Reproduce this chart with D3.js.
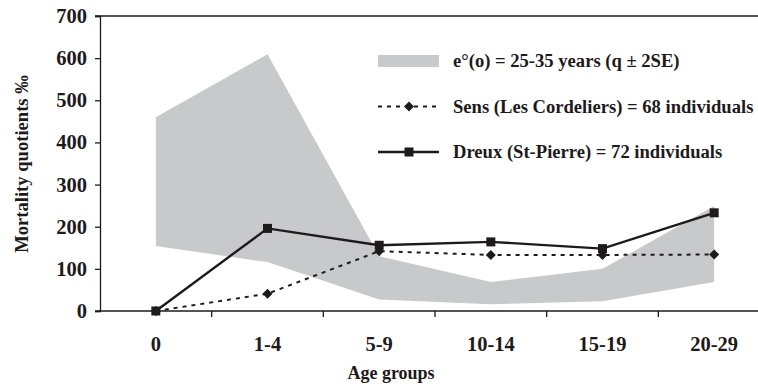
<!DOCTYPE html>
<html>
<head>
<meta charset="utf-8">
<script src="https://cdn.jsdelivr.net/npm/d3@7"></script>
<style>
  body { margin: 0; background: #fff; }
  svg { display: block; font-family: "Liberation Serif", "DejaVu Serif", serif; font-weight: bold; }
</style>
</head>
<body>
<figure id="chart" style="margin:0"></figure>
<script>
const ageGroups = ["0", "1-4", "5-9", "10-14", "15-19", "20-29"]
const bandUpper = [460, 609, 130, 69, 100, 249]
const bandLower = [154, 116, 27, 16, 23, 69]
const sens = [0, 41, 142, 133, 133, 134]
const dreux = [0, 196, 156, 164, 148, 233]
const yTicks = [0, 100, 200, 300, 400, 500, 600, 700]

const width = 758
const height = 388
const ink = "#1e1a1b"
const grey = "#c8c9cb"

const svg = d3.select("#chart").append("svg")
  .attr("width", width)
  .attr("height", height)

const x = d3.scaleBand()
  .domain(ageGroups)
  .range([100, 770])

const y = d3.scaleLinear()
  .domain([0, 700])
  .range([311, 16])

const cx = d => x(d) + x.bandwidth() / 2

// grey band q +/- 2SE
const area = d3.area()
  .x((d, i) => cx(ageGroups[i]))
  .y0((d, i) => y(bandLower[i]))
  .y1(d => y(d))

svg.append("path")
  .datum(bandUpper)
  .attr("fill", grey)
  .attr("d", area)

// top frame line
svg.append("line")
  .attr("x1", 95).attr("x2", width)
  .attr("y1", y(700)).attr("y2", y(700))
  .attr("stroke", ink).attr("stroke-width", 1.3)

// y axis
const yAxis = svg.append("g")
  .attr("transform", "translate(100,0)")
  .call(d3.axisLeft(y).tickValues(yTicks).tickSize(5).tickPadding(8))
yAxis.select(".domain").attr("stroke", ink).attr("stroke-width", 1.3)
yAxis.selectAll(".tick line").attr("stroke", ink).attr("stroke-width", 1.3)
yAxis.selectAll("text")
  .attr("font-size", 20.5)
  .attr("font-family", "Liberation Serif")
  .attr("fill", ink)

// x axis line + ticks between groups
svg.append("line")
  .attr("x1", 95).attr("x2", width)
  .attr("y1", y(0)).attr("y2", y(0))
  .attr("stroke", ink).attr("stroke-width", 1.3)

svg.append("g")
  .selectAll("line")
  .data(ageGroups.slice(1))
  .join("line")
    .attr("x1", d => x(d)).attr("x2", d => x(d))
    .attr("y1", y(0)).attr("y2", y(0) + 6)
    .attr("stroke", ink).attr("stroke-width", 1.3)

svg.append("g")
    .attr("font-size", 20.5)
    .attr("text-anchor", "middle")
    .attr("fill", ink)
  .selectAll("text")
  .data(ageGroups)
  .join("text")
    .attr("x", d => cx(d))
    .attr("y", 351)
    .text(d => d)

svg.append("text")
  .attr("x", 391)
  .attr("y", 379)
  .attr("text-anchor", "middle")
  .attr("font-size", 18)
  .attr("fill", ink)
  .text("Age groups")

svg.append("text")
  .attr("transform", "translate(28,164) rotate(-90)")
  .attr("text-anchor", "middle")
  .attr("font-size", 18.6)
  .attr("fill", ink)
  .text("Mortality quotients ‰")

const line = d3.line()
  .x((d, i) => cx(ageGroups[i]))
  .y(d => y(d))

// Sens: dashed with diamonds
svg.append("path")
  .datum(sens)
  .attr("fill", "none")
  .attr("stroke", ink)
  .attr("stroke-width", 2)
  .attr("stroke-dasharray", "4,5")
  .attr("d", line)

const diamond = d3.symbol().type(d3.symbolSquare).size(50)
svg.append("g")
  .selectAll("path")
  .data(sens)
  .join("path")
    .attr("transform", (d, i) => `translate(${cx(ageGroups[i])},${y(d)}) rotate(45)`)
    .attr("d", diamond)
    .attr("fill", ink)

// Dreux: solid with squares
svg.append("path")
  .datum(dreux)
  .attr("fill", "none")
  .attr("stroke", ink)
  .attr("stroke-width", 2.4)
  .attr("d", line)

svg.append("g")
  .selectAll("rect")
  .data(dreux)
  .join("rect")
    .attr("x", (d, i) => cx(ageGroups[i]) - 4.5)
    .attr("y", d => y(d) - 4.5)
    .attr("width", 9)
    .attr("height", 9)
    .attr("fill", ink)

// legend
const legendItems = [
  { label: "e°(o) = 25-35 years (q ± 2SE)", kind: "band" },
  { label: "Sens (Les Cordeliers) = 68 individuals", kind: "sens" },
  { label: "Dreux (St-Pierre) = 72 individuals", kind: "dreux" }
]

const legend = svg.append("g")
  .selectAll("g")
  .data(legendItems)
  .join("g")
    .attr("transform", (d, i) => `translate(378,${61 + i * 45.5})`)

legend.each(function(d) {
  const g = d3.select(this)
  if (d.kind === "band") {
    g.append("rect").attr("x", 0).attr("y", -6).attr("width", 61).attr("height", 12).attr("fill", grey)
  } else if (d.kind === "sens") {
    g.append("line").attr("x1", 0).attr("x2", 61).attr("stroke", ink)
      .attr("stroke-width", 2).attr("stroke-dasharray", "4,5")
    g.append("path").attr("transform", "translate(31,0) rotate(45)").attr("d", diamond).attr("fill", ink)
  } else {
    g.append("line").attr("x1", 0).attr("x2", 61).attr("stroke", ink).attr("stroke-width", 2.4)
    g.append("rect").attr("x", 26.5).attr("y", -4.5).attr("width", 9).attr("height", 9).attr("fill", ink)
  }
  g.append("text")
    .attr("x", 75)
    .attr("y", 6)
    .attr("font-size", 18.6)
    .attr("fill", ink)
    .text(d.label)
})
</script>
</body>
</html>
